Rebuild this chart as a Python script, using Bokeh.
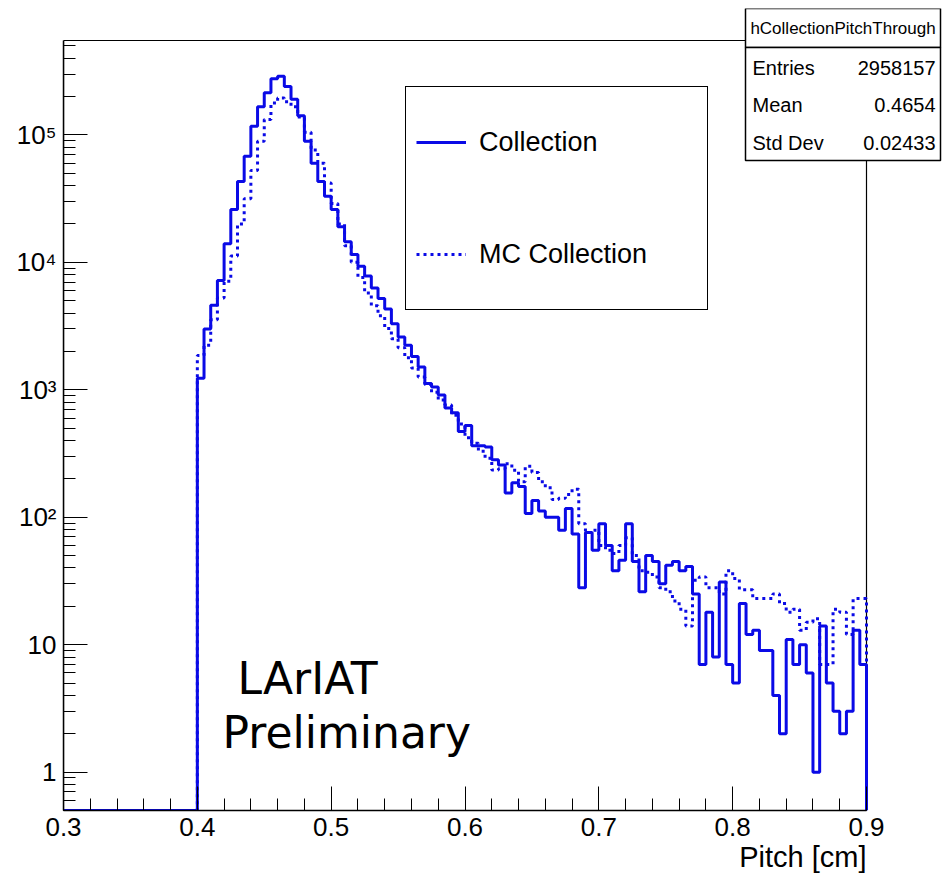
import numpy as np
from bokeh.plotting import figure
from bokeh.models import (FixedTicker, CustomJSTickFormatter, Legend, LegendItem,
                          Label, BoxAnnotation, Range1d, Title)
from bokeh.embed import file_html
from bokeh.resources import INLINE

# ---------------- data ----------------
bin_lo, bin_hi, bin_width = 0.3, 0.9, 0.005
n_empty_bins = 20          # bins from 0.300 to 0.400 are empty
# counts per bin, bins starting at 0.400, 0.405, ..., 0.895
data_counts = [
    1230, 3000, 4600, 7200, 14000, 26000, 43000, 68000, 117000, 166000,
    214000, 275000, 288000, 240000, 190000, 141000, 89000, 60000, 43000, 33000,
    26000, 19000, 14500, 11500, 9300, 7800, 6300, 5200, 4300, 3300,
    2600, 2240, 1820, 1510, 1120, 1050, 910, 720, 660, 470,
    525, 363, 363, 355, 282, 257, 155, 186, 174, 107,
    135, 112, 100, 100, 79, 117, 74, 28, 76, 55,
    89, 60, 38, 46, 89, 45, 26, 50, 45, 30,
    42, 45, 38, 41, 25, 7, 18, 8, 31, 7,
    5, 21, 12, 13, 9, 9, 4, 2, 11, 7,
    10, 6, 1, 14, 5, 3, 2, 3, 13, 7,
]
mc_counts = [
    1860, 2240, 3550, 5250, 7100, 11200, 20000, 31600, 52500, 89000,
    132000, 178000, 195000, 182000, 166000, 138000, 105000, 76000, 60000, 42000,
    29000, 20000, 13500, 10000, 7600, 5750, 4570, 3800, 3020, 2510,
    2140, 1780, 1480, 1260, 1100, 955, 830, 760, 630, 540,
    420, 380, 330, 290, 235, 240, 263, 234, 190, 251,
    224, 190, 170, 138, 141, 151, 166, 89, 76, 79,
    60, 55, 52, 60, 69, 50, 38, 37, 34, 28,
    26, 22, 19, 14, 32, 34, 28, 28, 25, 38,
    33, 27, 27, 23, 23, 23, 25, 21, 18, 19,
    13, 15, 16, 7, 7, 19, 18, 12, 23, 23,
]
x_ticks = [0.3, 0.4, 0.5, 0.6, 0.7, 0.8, 0.9]
y_ticks = [1, 10, 100, 1000, 10000, 100000]
y_tick_labels = ["1", "10", "10²", "10³", "10⁴", "10⁵"]
series_labels = ["Collection", "MC Collection"]
stats_title = "hCollectionPitchThrough"
stats_names = ["Entries", "Mean", "Std Dev"]
stats_values = ["2958157", "0.4654", "0.02433"]
x_title = "Pitch [cm]"
watermark = ["LArIAT", "Preliminary"]

Y_MIN, Y_MAX = 0.5, 5.5e5
BLUE = "#0a0ae6"
FONT = "Liberation Sans"

# pixel geometry of the histogram frame (left, right, top, bottom)
FL, FR, FT, FB = 63, 866, 40, 810
W, H = 942, 878
TOP_PAD = 8
x_px = (FR - FL) / (bin_hi - bin_lo)
dec_px = (FB - FT) / (np.log10(Y_MAX) - np.log10(Y_MIN))
x_view_hi = bin_hi + (W - FR) / x_px
y_view_hi = 10 ** (np.log10(Y_MAX) + (FT - TOP_PAD) / dec_px)

n_bins = int(round((bin_hi - bin_lo) / bin_width))
edges = np.round(bin_lo + bin_width * np.arange(n_bins + 1), 4)


def step_path(counts):
    full = [0] * n_empty_bins + list(counts)
    xs, ys = [], []
    for i, c in enumerate(full):
        v = c if c > 0 else Y_MIN
        xs += [edges[i], edges[i + 1]]
        ys += [v, v]
    xs.append(edges[-1])
    ys.append(Y_MIN)
    return xs, ys


p = figure(width=W, height=H, y_axis_type="log",
           x_range=Range1d(bin_lo, x_view_hi), y_range=Range1d(Y_MIN, y_view_hi),
           output_backend="svg", toolbar_location=None,
           min_border_left=FL, min_border_right=0,
           min_border_top=TOP_PAD, min_border_bottom=H - FB)
p.background_fill_color = "white"
p.border_fill_color = "white"
p.xgrid.visible = False
p.ygrid.visible = False
p.outline_line_color = None

# frame border of the histogram (top and right edges), drawn beneath the lines
p.add_layout(BoxAnnotation(left=bin_lo, right=bin_hi, bottom=Y_MIN, top=Y_MAX,
                           fill_alpha=0, line_color="black", line_alpha=1,
                           line_width=1.2, level="underlay"))

mx, my = step_path(mc_counts)
r_mc = p.line(mx, my, line_color=BLUE, line_width=3, line_dash="3 4")
dx, dy = step_path(data_counts)
r_data = p.line(dx, dy, line_color=BLUE, line_width=3)

# axes
minor_x = [round(0.3 + 0.02 * k, 2) for k in range(31)]
p.xaxis.ticker = FixedTicker(ticks=x_ticks, minor_ticks=minor_x)
p.xaxis.formatter = CustomJSTickFormatter(code="return tick.toFixed(1);")
minor_y = [m * 10 ** e for e in range(-1, 6) for m in range(2, 10)
           if Y_MIN <= m * 10 ** e <= Y_MAX]
p.yaxis.ticker = FixedTicker(ticks=y_ticks, minor_ticks=minor_y)
p.yaxis.formatter = CustomJSTickFormatter(
    args=dict(labels=y_tick_labels),
    code="const e = Math.round(Math.log10(tick)); return labels[e];")
p.xaxis.bounds = (bin_lo, bin_hi)
p.yaxis.bounds = (Y_MIN, Y_MAX)
for ax in (p.xaxis[0], p.yaxis[0]):
    ax.major_tick_in = 24
    ax.major_tick_out = 0
    ax.minor_tick_in = 12
    ax.minor_tick_out = 0
    ax.axis_line_width = 1.5
    ax.axis_line_color = "black"
    ax.major_tick_line_color = "black"
    ax.minor_tick_line_color = "black"
    ax.major_label_text_font = FONT
    ax.major_label_text_font_size = "26px"
    ax.major_label_text_color = "black"
p.xaxis.major_label_standoff = 7
p.yaxis.major_label_standoff = 7

p.add_layout(Title(text=x_title, align="right", offset=(W - FR), standoff=0,
                   text_font=FONT, text_font_size="29px", text_font_style="normal",
                   text_color="black"), "below")

# legend
legend = Legend(items=[LegendItem(label=series_labels[0], renderers=[r_data]),
                       LegendItem(label=series_labels[1], renderers=[r_mc])],
                location=(342, 500), orientation="vertical", margin=0,
                padding=10, spacing=22, glyph_width=50, glyph_height=90,
                label_height=90, label_width=218, label_standoff=13,
                label_text_font=FONT, label_text_font_size="27px",
                label_text_color="black",
                border_line_color="black", border_line_alpha=1, border_line_width=1.5,
                background_fill_color="white", background_fill_alpha=1)
p.add_layout(legend, "center")

# watermark text
p.add_layout(Label(x=174, y=132, x_units="screen", y_units="screen",
                   text=watermark[0], text_baseline="alphabetic",
                   text_font="DejaVu Sans", text_font_size="44px", text_color="black"))
p.add_layout(Label(x=159, y=78, x_units="screen", y_units="screen",
                   text=watermark[1], text_baseline="alphabetic",
                   text_font="DejaVu Sans", text_font_size="44px", text_color="black"))

# stats box (screen units relative to frame bottom-left)
for top, bottom in ((802, 763), (763, 650)):
    p.add_layout(BoxAnnotation(left=682, right=877, top=top, bottom=bottom,
                               left_units="screen", right_units="screen",
                               top_units="screen", bottom_units="screen",
                               fill_color="white", fill_alpha=1,
                               line_color="black", line_alpha=1, line_width=1.5))
p.add_layout(Label(x=779.5, y=782.5, x_units="screen", y_units="screen",
                   text=stats_title, text_align="center", text_baseline="middle",
                   text_font=FONT, text_font_size="17px", text_color="black"))
row_y = [743, 706, 668]
for name, val, yy in zip(stats_names, stats_values, row_y):
    p.add_layout(Label(x=689, y=yy, x_units="screen", y_units="screen",
                       text=name, text_align="left", text_baseline="middle",
                       text_font=FONT, text_font_size="20px", text_color="black"))
    p.add_layout(Label(x=872, y=yy, x_units="screen", y_units="screen",
                       text=val, text_align="right", text_baseline="middle",
                       text_font=FONT, text_font_size="20px", text_color="black"))

open("out.html", "w").write(file_html(p, INLINE))
